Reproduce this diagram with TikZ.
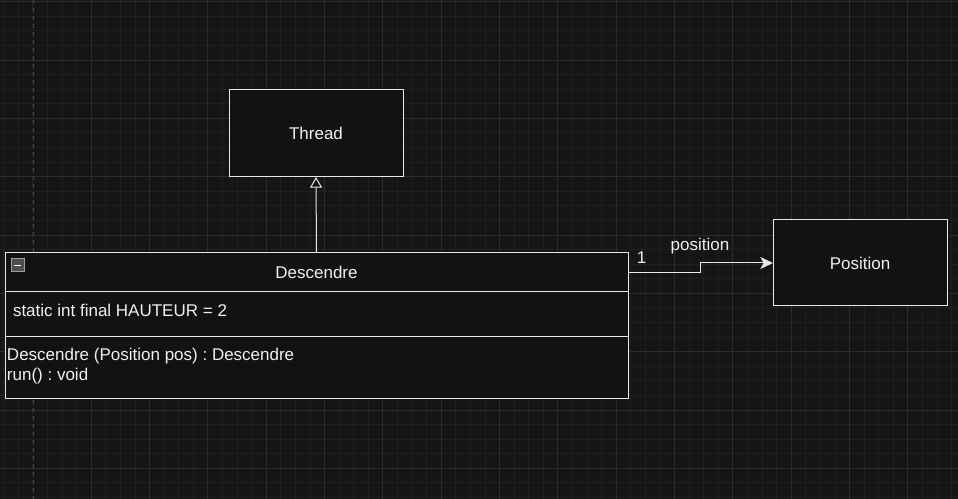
\documentclass[tikz,border=0pt]{standalone}
\usepackage{fontspec}
\setmainfont{Liberation Sans}
\usetikzlibrary{positioning,arrows.meta}
\definecolor{canvasbg}{RGB}{21,21,21}
\definecolor{minorgridc}{RGB}{31,31,31}
\definecolor{majorgridc}{RGB}{44,44,44}
\definecolor{pageedge}{RGB}{72,72,72}
\definecolor{boxfill}{RGB}{18,18,18}
\definecolor{umlline}{RGB}{232,232,232}
\definecolor{umltext}{RGB}{240,240,240}
\definecolor{iconfill}{RGB}{78,78,80}
\definecolor{iconedge}{RGB}{160,160,165}
\tikzset{every picture/.style={line width=0.75pt}}
\frenchspacing

\begin{document}
\begin{tikzpicture}[x=0.75pt,y=0.75pt,yscale=-1,xscale=1,
    umlfont/.style={font=\fontsize{12.75}{15}\selectfont, text=umltext},
    umlbox/.style={draw=umlline, fill=boxfill, rectangle, inner sep=0pt, outer sep=0pt, umlfont},
    compartment/.style={umlbox, minimum width=467.25pt},
    labeltext/.style={umlfont, inner sep=0pt},
    minorgrid/.style={draw=minorgridc, line width=0.75pt},
    majorgrid/.style={draw=majorgridc, line width=0.75pt}]
        \useasboundingbox (0,0) rectangle (958,499);
        %Background and grid
        \fill[canvasbg] (0,0) rectangle (958,499);
        \foreach \i in {0,...,65} \draw[minorgrid] ({3.83+\i*14.583},0) -- ({3.83+\i*14.583},499);
        \foreach \i in {0,...,34} \draw[minorgrid] (0,{1.7+\i*14.583}) -- (958,{1.7+\i*14.583});
        \foreach \i in {1,...,16} \draw[majorgrid] ({33+\i*58.33},0) -- ({33+\i*58.33},499);
        \foreach \i in {0,...,8} \draw[majorgrid] (0,{1.7+\i*58.33}) -- (958,{1.7+\i*58.33});
        \draw[pageedge, dash pattern=on 3pt off 3pt] (33,0) -- (33,499);

        %Classes
        \node[umlbox, minimum width=130.5pt, minimum height=65.25pt] (thread) at (316,133.5) {Thread};
        \node[umlbox, minimum width=130.5pt, minimum height=64.5pt] (position) at (860,263) {Position};

        \node[compartment, minimum height=29.25pt] (desc) at (316.5,272.5) {Descendre};
        \node[compartment, minimum height=33.75pt, below=0pt of desc] (descAttr) {};
        \node[compartment, minimum height=45.75pt, below=0pt of descAttr] (descOps) {};

        % Collapse icon
        \node[draw=iconedge, fill=iconfill, rectangle, inner sep=0pt, minimum size=9.75pt] (collapse) at (17.5,265.5) {};
        \draw[white, line width=1.2pt] ([xshift=-2.6pt]collapse.center) -- ([xshift=2.6pt]collapse.center);

        % Text Node
        \node[labeltext, anchor=base west] (attrHauteur) at (12.5,316) {static int final HAUTEUR = 2};
        \node[labeltext, anchor=base west] (opCtor) at (6.5,360) {Descendre (Position pos) : Descendre};
        \node[labeltext, anchor=base west] (opRun) at (6.5,381) {run() : void};

        %Connectors
        \draw[umlline, -{Triangle[open, length=8pt, width=9pt]}] (desc.north) -- (thread.south);
        \draw[umlline, -{Stealth[length=9.5pt, width=9pt, inset=2.5pt]}] (desc.east) -- ++(72,0) |- (position.west);
        \node[labeltext, anchor=base] (multOne) at (641.5,264) {1};
        \node[labeltext, anchor=base] (roleName) at (700,250.5) {position};

\end{tikzpicture}
\end{document}
